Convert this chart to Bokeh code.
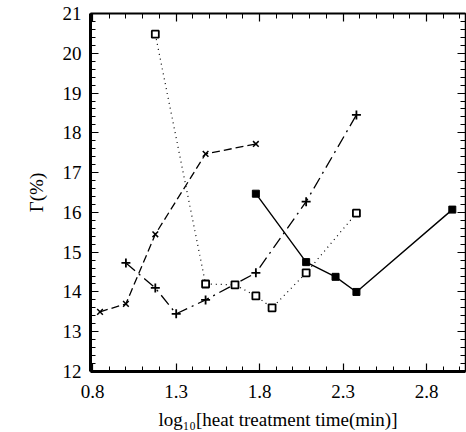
from bokeh.plotting import figure
from bokeh.models import Range1d, LinearAxis, FixedTicker
from bokeh.embed import file_html
from bokeh.resources import INLINE

# data (x = log10 of heat treatment time in minutes, y = Gamma %)
x_xmark = [0.845, 1.0, 1.176, 1.477, 1.778]
y_xmark = [13.5, 13.7, 15.45, 17.47, 17.72]

x_plus = [1.0, 1.176, 1.301, 1.477, 1.778, 2.079, 2.380]
y_plus = [14.73, 14.1, 13.45, 13.8, 14.48, 16.27, 18.45]

x_open = [1.176, 1.477, 1.653, 1.778, 1.875, 2.079, 2.380]
y_open = [20.48, 14.2, 14.18, 13.9, 13.6, 14.48, 15.98]

x_fill = [1.778, 2.079, 2.255, 2.380, 2.954]
y_fill = [16.47, 14.75, 14.38, 14.0, 16.07]

x_major = [0.8, 1.3, 1.8, 2.3, 2.8]
x_minor = [0.8, 0.9, 1.0, 1.1, 1.2, 1.3, 1.4, 1.5, 1.6, 1.7, 1.8, 1.9,
           2.0, 2.1, 2.2, 2.3, 2.4, 2.5, 2.6, 2.7, 2.8, 2.9, 3.0]
y_major = [12, 13, 14, 15, 16, 17, 18, 19, 20, 21]
y_minor = [12.0, 12.2, 12.4, 12.6, 12.8, 13.0, 13.2, 13.4, 13.6, 13.8,
           14.0, 14.2, 14.4, 14.6, 14.8, 15.0, 15.2, 15.4, 15.6, 15.8,
           16.0, 16.2, 16.4, 16.6, 16.8, 17.0, 17.2, 17.4, 17.6, 17.8,
           18.0, 18.2, 18.4, 18.6, 18.8, 19.0, 19.2, 19.4, 19.6, 19.8,
           20.0, 20.2, 20.4, 20.6, 20.8, 21.0]

FONT = "serif"

p = figure(width=466, height=432,
           x_range=Range1d(0.788, 3.033), y_range=Range1d(12, 21),
           output_backend="svg", toolbar_location=None,
           min_border_left=90, min_border_top=13, min_border_right=1,
           min_border_bottom=61, x_axis_location=None, y_axis_location=None)
p.xgrid.visible = False
p.ygrid.visible = False

xt = FixedTicker(ticks=x_major, minor_ticks=x_minor)
yt = FixedTicker(ticks=y_major, minor_ticks=y_minor)


def make_axis(ticker, width, label=None, labels=True):
    kw = dict(ticker=ticker, axis_line_width=width,
              major_tick_in=8, major_tick_out=0, minor_tick_in=5, minor_tick_out=0,
              major_tick_line_width=1.2)
    if labels:
        kw.update(major_label_text_font=FONT, major_label_text_font_size="19px",
                  major_label_text_color="black")
    else:
        kw.update(major_label_text_alpha=0)
    if label is not None:
        kw.update(axis_label=label, axis_label_text_font=FONT,
                  axis_label_text_font_size="19px",
                  axis_label_text_font_style="normal",
                  axis_label_text_color="black")
    return LinearAxis(**kw)


bottom = make_axis(xt, 3, "log\u2081\u2080[heat treatment time(min)]")
bottom.major_label_standoff = 13
bottom.axis_label_standoff = 8
p.add_layout(bottom, "below")

left = make_axis(yt, 3, "\u0393(%)")
left.major_label_standoff = 9
left.axis_label_standoff = 13
p.add_layout(left, "left")

p.add_layout(make_axis(xt, 2, labels=False), "above")
p.add_layout(make_axis(yt, 1.5, labels=False), "right")

# series
p.line(x_xmark, y_xmark, line_color="black", line_width=1.3, line_dash="8 4")
p.scatter(x_xmark, y_xmark, marker="x", size=8, line_color="black", line_width=1.5)

p.line(x_plus, y_plus, line_color="black", line_width=1.3, line_dash="12 5 2 5")
p.scatter(x_plus, y_plus, marker="cross", size=9, line_color="black", line_width=1.8)

p.line(x_open, y_open, line_color="black", line_width=1.2, line_dash="1 4")
p.scatter(x_open, y_open, marker="square", size=7, line_color="black",
          fill_color="white", line_width=1.8)

p.line(x_fill, y_fill, line_color="black", line_width=1.4)
p.scatter(x_fill, y_fill, marker="square", size=7, line_color="black",
          fill_color="black")

open("out.html", "w").write(file_html(p, INLINE))
